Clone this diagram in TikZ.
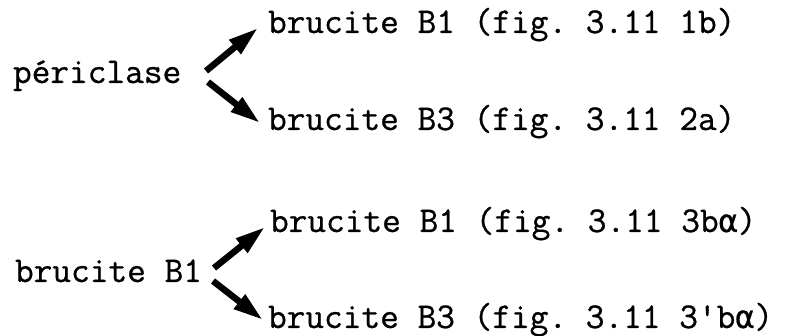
\documentclass[tikz,border=0pt]{standalone}
\usepackage{fontspec}
\setmonofont[FakeBold=0.8]{Latin Modern Mono}
\newfontfamily\grkfont[Scale=0.872,FakeBold=0.8]{DejaVu Sans Mono}
\usetikzlibrary{arrows.meta}
\tikzset{
  lbl/.style={anchor=base west, inner sep=0pt, outer sep=0pt, font=\ttfamily\fontsize{36.3}{37}\selectfont},
  fatarrow/.style={line width=6.5pt, -{Triangle[length=30pt,width=17pt]}}
}
\newcommand{\alphaglyph}{{\grkfont α}}
\begin{document}
\begin{tikzpicture}[x=1pt,y=1pt]
\useasboundingbox (0,0) rectangle (800,336);
% upper group
\node[lbl] (per) at (13,253) {périclase};
\node[lbl] (b1a) at (268,303) {brucite B1 (fig. 3.11 1b)};
\node[lbl] (b3a) at (268,206) {brucite B3 (fig. 3.11 2a)};
% lower group
\node[lbl] (bsrc) at (15,54) {brucite B1};
\node[lbl] (b1b) at (270,104) {brucite B1 (fig. 3.11 3b\alphaglyph)};
\node[lbl] (b3b) at (268,8) {brucite B3 (fig. 3.11 3'b\alphaglyph)};
% arrow ends
\coordinate (t1) at (206,265);
\coordinate (h1) at (258,308);
\coordinate (t2) at (208,254);
\coordinate (h2) at (260,213);
\coordinate (t3) at (214,68);
\coordinate (h3) at (265,109);
\coordinate (t4) at (213,55);
\coordinate (h4) at (263,16);
\draw[fatarrow] (t1) -- (h1);
\draw[fatarrow] (t2) -- (h2);
\draw[fatarrow] (t3) -- (h3);
\draw[fatarrow] (t4) -- (h4);
\end{tikzpicture}
\end{document}
